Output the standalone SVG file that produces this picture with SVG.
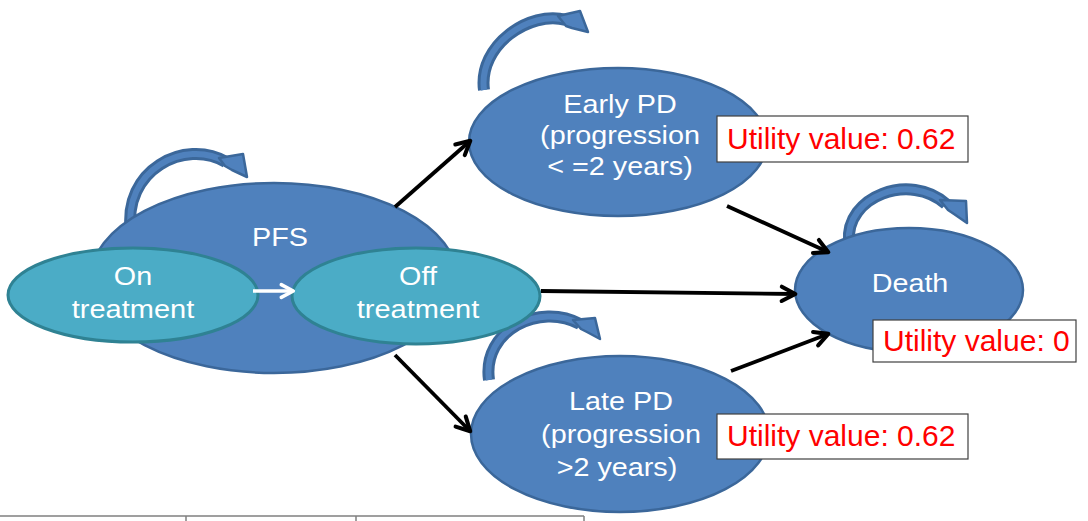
<svg xmlns="http://www.w3.org/2000/svg" width="1088" height="521" viewBox="0 0 1088 521">
  <defs>
    <marker id="blk" viewBox="0 0 10 10" refX="8.8" refY="5" markerWidth="17" markerHeight="17" markerUnits="userSpaceOnUse" orient="auto" overflow="visible">
      <path d="M1,0.8 L9,5 L1,9.2" fill="none" stroke="#000" stroke-width="2.4" stroke-linecap="round" stroke-linejoin="round"/>
    </marker>
    <marker id="wht" viewBox="0 0 10 10" refX="8.8" refY="5" markerWidth="15" markerHeight="15" markerUnits="userSpaceOnUse" orient="auto" overflow="visible">
      <path d="M1,0.8 L9,5 L1,9.2" fill="none" stroke="#fff" stroke-width="2.4" stroke-linecap="round" stroke-linejoin="round"/>
    </marker>
  </defs>
  <style>
    .state { fill: #4f81bd; stroke: #3b679a; stroke-width: 2.5; }
    .sub { fill: #4bacc6; stroke: #2f8293; stroke-width: 3; }
    .lbl { font-family: "Liberation Sans", Arial, sans-serif; font-size: 25px; fill: #fff; text-anchor: middle; }
    .util { font-family: "Liberation Sans", Arial, sans-serif; font-size: 30px; fill: #ff0000; }
    .ubox { fill: #fff; stroke: #404040; stroke-width: 1.2; }
    .edge { stroke: #000; stroke-width: 3.8; fill: none; marker-end: url(#blk); }
    .loopOut { fill: none; stroke: #3b679a; stroke-width: 12; stroke-linecap: butt; }
    .loopIn { fill: none; stroke: #4f81bd; stroke-width: 6; stroke-linecap: butt; }
    .loopHead { fill: #4f81bd; stroke: #3b679a; stroke-width: 2.5; stroke-linejoin: round; }
    .rule { stroke: #7f7f7f; stroke-width: 1.5; }
  </style>

  <!-- table rule along the bottom -->
  <g id="table-rule">
    <line class="rule" x1="0" y1="516" x2="584" y2="516"/>
    <line class="rule" x1="186" y1="516" x2="186" y2="521"/>
    <line class="rule" x1="356" y1="516" x2="356" y2="521"/>
    <line class="rule" x1="584" y1="516" x2="584" y2="521"/>
  </g>

  <!-- self-transition loops -->
  <g id="loops">
    <path class="loopOut" d="M131,232 C122,170 185,138 226,162"/>
    <path class="loopIn" d="M131,232 C122,170 185,138 226,162"/>
    <polygon class="loopHead" points="219,158 243,154 247,177 232,170 225,166"/>

    <path class="loopOut" d="M484,90 C478,45 530,10 566,20"/>
    <path class="loopIn" d="M484,90 C478,45 530,10 566,20"/>
    <polygon class="loopHead" points="558,16 580,11 588,32 572,28 566,26"/>

    <path class="loopOut" d="M849,242 C845,196 910,172 946,204"/>
    <path class="loopIn" d="M849,242 C845,196 910,172 946,204"/>
    <polygon class="loopHead" points="940,200 966,201 967,223 954,214 948,210"/>

    <path class="loopOut" d="M489,380 C482,330 540,302 580,324"/>
    <path class="loopIn" d="M489,380 C482,330 540,302 580,324"/>
    <polygon class="loopHead" points="573,320 595,318 600,339 587,332 581,329"/>
  </g>

  <!-- PFS container state -->
  <g id="pfs">
    <ellipse class="state" cx="274" cy="278" rx="183" ry="95"/>
    <text class="lbl" transform="translate(280 246) scale(1.15 1)">PFS</text>
  </g>

  <g id="on-treatment">
    <ellipse class="sub" cx="133" cy="295" rx="125" ry="47"/>
    <text class="lbl" transform="translate(133 285) scale(1.15 1)">On</text>
    <text class="lbl" transform="translate(133 318) scale(1.16 1)">treatment</text>
  </g>

  <g id="off-treatment">
    <ellipse class="sub" cx="416" cy="296" rx="124" ry="48"/>
    <text class="lbl" transform="translate(418 285) scale(1.15 1)">Off</text>
    <text class="lbl" transform="translate(418 318) scale(1.16 1)">treatment</text>
  </g>

  <g id="early-pd">
    <ellipse class="state" cx="618" cy="142" rx="149" ry="74"/>
    <text class="lbl" transform="translate(620 113) scale(1.15 1)">Early PD</text>
    <text class="lbl" transform="translate(620 144) scale(1.15 1)">(progression</text>
    <text class="lbl" transform="translate(620 175) scale(1.15 1)">&lt; =2 years)</text>
  </g>

  <g id="late-pd">
    <ellipse class="state" cx="620" cy="434" rx="149" ry="78"/>
    <text class="lbl" transform="translate(621 410) scale(1.15 1)">Late PD</text>
    <text class="lbl" transform="translate(621 443) scale(1.15 1)">(progression</text>
    <text class="lbl" transform="translate(617 476) scale(1.15 1)">&gt;2 years)</text>
  </g>

  <g id="death">
    <ellipse class="state" cx="909" cy="290" rx="114" ry="62"/>
    <text class="lbl" transform="translate(910 292) scale(1.15 1)">Death</text>
  </g>

  <!-- transitions -->
  <g id="connectors">
    <line x1="253" y1="291" x2="293" y2="291" stroke="#fff" stroke-width="3.6" marker-end="url(#wht)"/>
    <line class="edge" x1="395" y1="207" x2="470" y2="141"/>
    <line class="edge" x1="395" y1="355" x2="470" y2="431"/>
    <line class="edge" x1="541" y1="291" x2="795" y2="294"/>
    <line class="edge" x1="727" y1="206" x2="828" y2="252"/>
    <line class="edge" x1="731" y1="371" x2="828" y2="334"/>
  </g>

  <!-- utility annotations -->
  <g id="utility-early">
    <rect class="ubox" x="717" y="116" width="251" height="46"/>
    <text class="util" x="727" y="149">Utility value: 0.62</text>
  </g>
  <g id="utility-death">
    <rect class="ubox" x="873" y="320" width="203" height="42"/>
    <text class="util" x="883" y="351">Utility value: 0</text>
  </g>
  <g id="utility-late">
    <rect class="ubox" x="717" y="414" width="251" height="45"/>
    <text class="util" x="727" y="446">Utility value: 0.62</text>
  </g>
</svg>
